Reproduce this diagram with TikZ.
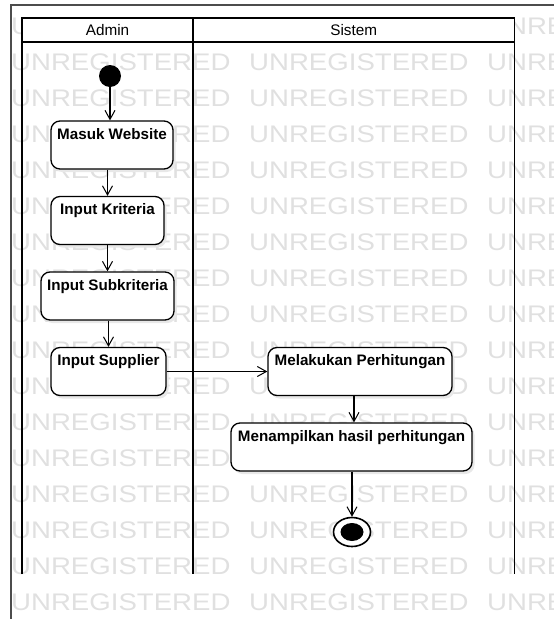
\documentclass[tikz,border=0pt]{standalone}
\usepackage{fontspec}
\setmainfont{Liberation Sans}
\usetikzlibrary{arrows.meta,shadows,shapes.geometric}
\begin{document}
\begin{tikzpicture}[x=1pt,y=-1pt,
  lane/.style={line width=1.6pt, black},
  frame/.style={line width=1.3pt, black!70},
  act/.style={draw, line width=1.3pt, rounded corners=9pt, fill=white,
    font=\fontsize{15.2}{16}\selectfont\bfseries, inner xsep=2pt, inner ysep=0pt,
    text height=18pt, text depth=30pt,
    drop shadow={shadow xshift=2.5pt, shadow yshift=-3pt, fill=black!9, opacity=1}},
  flow/.style={-{Straight Barb[length=9pt,width=10pt,line width=1pt]}, line width=1.1pt},
  wm/.style={text=black!12, font=\fontsize{24}{24}\selectfont, anchor=west, inner sep=0pt},
  hdr/.style={font=\fontsize{15.3}{16}\selectfont, inner sep=0pt}
]
\useasboundingbox (0,0) rectangle (554,619);
\clip (0,0) rectangle (554,619);

% watermark
\foreach \r in {0,...,16} {
  \foreach \c in {0,1,2} {
    \node[wm] (w\r-\c) at (11+238*\c, 26+36*\r) {\scalebox{1.15}[1]{UNREGISTERED}};
  }
}

% outer frame
\draw[frame] (11,5) rectangle (600,660);

% swimlanes
\draw[lane, fill=white] (22,18) rectangle (514.5,42);
\draw[lane] (193,18) -- (193,574);
\draw[lane] (22,42) -- (22,574);
\draw[lane] (514.5,42) -- (514.5,574);
\node[hdr] (hadmin) at (107.5,30.5) {Admin};
\node[hdr] (hsistem) at (353.75,30.5) {Sistem};

% nodes
\node[circle, fill=black, minimum size=22pt, inner sep=0pt] (init) at (110,76) {};
\node[act, minimum width=122pt] (masuk) at (112,145) {Masuk Website};
\node[act, minimum width=113pt] (kriteria) at (107.5,220.5) {Input Kriteria};
\node[act, minimum width=133pt] (subkrit) at (107.5,296) {Input Subkriteria};
\node[act, minimum width=115pt] (supplier) at (108.5,371.5) {Input Supplier};
\node[act, minimum width=184pt] (hitung) at (360,371.5) {Melakukan Perhitungan};
\node[act, minimum width=241pt] (tampil) at (351.5,447) {Menampilkan hasil perhitungan};
\node[ellipse, draw, line width=1.6pt, fill=white, minimum width=37pt, minimum height=29pt, inner sep=0pt] (final) at (352,532) {};
\node[ellipse, fill=black, minimum width=23pt, minimum height=18pt, inner sep=0pt] (finalin) at (352,532) {};

% flows
\draw[flow] (init.south) -- (init.south |- masuk.north);
\draw[flow] (masuk.south -| kriteria.north) -- (kriteria.north);
\draw[flow] (kriteria.south) -- (subkrit.north);
\draw[flow] (subkrit.south -| supplier.north) -- (supplier.north);
\draw[flow] (supplier.east) -- (hitung.west);
\draw[flow] ([xshift=-6pt]hitung.south) -- ([xshift=-6pt]hitung.south |- tampil.north);
\draw[flow] (tampil.south -| final.north) -- (final.north);
\end{tikzpicture}
\end{document}
